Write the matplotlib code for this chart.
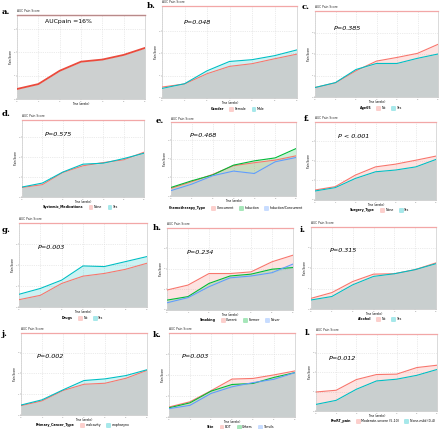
import numpy as np
import matplotlib
matplotlib.use('Agg')
import matplotlib.pyplot as plt
from matplotlib.patches import Patch

W, H = 440, 429

weeks = [0, 1, 2, 3, 4, 5, 6]

# panel a: whole cohort
pain_all = [0.43, 0.64, 1.21, 1.60, 1.69, 1.89, 2.19]

# grouped panels (b-l)
gender_names = ['Female', 'Male']
gender_vals = [[0.49, 0.63, 1.09, 1.42, 1.54, 1.76, 1.97],
               [0.43, 0.64, 1.22, 1.64, 1.72, 1.90, 2.16]]
age_names = ['No', 'Yes']
age_vals = [[0.44, 0.66, 1.22, 1.67, 1.84, 2.03, 2.45],
            [0.44, 0.67, 1.28, 1.56, 1.56, 1.80, 2.00]]
sysmed_names = ['None', 'Yes']
sysmed_vals = [[0.48, 0.62, 1.23, 1.57, 1.73, 1.87, 2.25],
               [0.50, 0.70, 1.25, 1.65, 1.70, 1.93, 2.20]]
chemo_names = ['Concurrent', 'Induction', 'Induction/Concurrent']
chemo_vals = [[0.41, 0.77, 1.16, 1.63, 1.79, 1.93, 2.16],
              [0.46, 0.82, 1.13, 1.66, 1.89, 2.05, 2.55],
              [0.29, 0.64, 1.09, 1.34, 1.21, 1.84, 2.07]]
surg_names = ['None', 'Yes']
surg_vals = [[0.51, 0.68, 1.27, 1.69, 1.83, 2.03, 2.24],
             [0.46, 0.63, 1.10, 1.44, 1.53, 1.69, 2.07]]
drugs_names = ['No', 'Yes']
drugs_vals = [[0.35, 0.56, 1.13, 1.48, 1.61, 1.81, 2.10],
              [0.61, 0.89, 1.29, 1.97, 1.94, 2.18, 2.42]]
smoke_names = ['Current', 'Former', 'Never']
smoke_vals = [[0.97, 1.21, 1.77, 1.77, 1.85, 2.34, 2.66],
              [0.48, 0.65, 1.29, 1.65, 1.74, 1.98, 2.06],
              [0.35, 0.60, 1.13, 1.56, 1.65, 1.81, 2.23]]
alc_names = ['No', 'Yes']
alc_vals = [[0.52, 0.80, 1.34, 1.70, 1.72, 1.92, 2.25],
            [0.44, 0.61, 1.18, 1.59, 1.72, 1.92, 2.21]]
prim_names = ['oralcavity', 'oropharynx']
prim_vals = [[0.45, 0.68, 1.18, 1.48, 1.53, 1.77, 2.15],
             [0.48, 0.73, 1.21, 1.66, 1.74, 1.90, 2.18]]
site_names = ['BOT', 'Others', 'Tonsils']
site_vals = [[0.48, 0.73, 1.26, 1.82, 1.85, 2.02, 2.21],
             [0.44, 0.68, 1.24, 1.56, 1.61, 1.90, 2.13],
             [0.40, 0.56, 1.13, 1.45, 1.65, 1.81, 2.13]]
prert_names = ['Moderate-severe (5-10)', 'None-mild (0-4)']
prert_vals = [[0.98, 1.07, 1.62, 1.88, 1.90, 2.24, 2.36],
              [0.34, 0.55, 1.12, 1.55, 1.64, 1.84, 2.14]]

col2 = ['#F8766D', '#00BFC4']
col3 = ['#F8766D', '#00BA38', '#619CFF']

fig = plt.figure(figsize=(W / 100, H / 100), dpi=100)


def make_ax(l, r, t, b, ytop):
    ax = fig.add_axes([l / W, 1 - b / H, (r - l) / W, (b - t) / H])
    ax.set_xlim(0, 6)
    ax.set_ylim(0, ytop)
    ax.set_xticks(weeks)
    ax.set_yticks([0, 1, 2, 3])
    ax.set_xticklabels([str(w) for w in weeks])
    ax.set_yticklabels(['0', '1', '2', '3'])
    ax.tick_params(labelsize=1.6, length=0.8, width=0.3, pad=0.5, colors='#777777')
    ax.grid(True, color='#d8d8d8', linestyle=':', linewidth=0.5)
    ax.set_axisbelow(True)
    for s in ax.spines.values():
        s.set_color('#cccccc')
        s.set_linewidth(0.5)
    ax.axhline(ytop, color='#f2a7a7', lw=0.9, clip_on=False, zorder=5)
    ax.set_xlabel('Time (weeks)', fontsize=1.9, labelpad=0.4)
    ax.set_ylabel('Pain Score', fontsize=1.9, labelpad=0.5)
    ax.text(0.0, 1.02, 'AUC Pain Score', transform=ax.transAxes, fontsize=2.2,
            va='bottom', color='#333333')
    return ax


def panel_label(x, y, s):
    fig.text(x / W, 1 - y / H, s, fontsize=6, family='DejaVu Serif',
             fontweight='bold', va='center', ha='left')


def grouped(ax, vals, names, cols, title, ptxt, px, py, ly, lx):
    vals = np.array(vals)
    low = vals.min(axis=0)
    ax.fill_between(weeks, 0, low, color='#c9cfcf', lw=0, zorder=1)
    for v, c in zip(vals, cols):
        ax.fill_between(weeks, low, v, color=c, alpha=0.2, lw=0, zorder=1)
    for v, c in zip(vals, cols):
        ax.plot(weeks, v, color=c, lw=0.8, zorder=3)
    fig.text(px / W, 1 - py / H, ptxt, fontsize=4.6, style='italic',
             va='center', ha='left')
    handles = [Patch(facecolor='none', edgecolor='none', label=title)]
    for n, c in zip(names, cols):
        handles.append(Patch(facecolor=c, alpha=0.35, edgecolor=c, lw=0.4, label=n))
    leg = fig.legend(handles=handles, loc='center', ncol=len(handles),
                     bbox_to_anchor=(lx / W, 1 - (ly + 1) / H), frameon=False,
                     fontsize=2.3, handlelength=1.2, handleheight=1.2,
                     handletextpad=0.5, columnspacing=1.6, borderpad=0.1)
    leg.get_texts()[0].set_fontweight('bold')


# a.
ax = make_ax(17, 145, 15, 99, 3.6)
ax.fill_between(weeks, 0, pain_all, color='#cdd0d0', lw=0, zorder=1)
ax.plot(weeks, pain_all, color='#ea4a3c', lw=1.3, zorder=3)
ax.axhline(3.6, color='#b88a8a', lw=0.9, clip_on=False, zorder=5)
fig.text(45 / W, 1 - 22 / H, 'AUCpain =16%', fontsize=4.4, va='center')
panel_label(2, 12, 'a.')

# b.
ax = make_ax(162, 297, 6, 98, 4.13)
grouped(ax, gender_vals, gender_names, col2, 'Gender', 'P=0.048', 184, 23, 108, 235)
panel_label(147, 6, 'b.')

# c.
ax = make_ax(315, 438, 11, 97, 4.0)
grouped(ax, age_vals, age_names, col2, 'Age65', 'P=0.385', 334, 28, 107, 378)
panel_label(302, 7, 'c.')

# d.
ax = make_ax(22, 144, 120, 197, 3.87)
grouped(ax, sysmed_vals, sysmed_names, col2, 'Systemic_Medications', 'P=0.575', 45, 135, 206, 78)
panel_label(2, 114, 'd.')

# e.
ax = make_ax(171, 296, 122, 196, 3.98)
grouped(ax, chemo_vals, chemo_names, col3, 'Chemotherapy_Type', 'P=0.468', 190, 136, 207, 233)
panel_label(156, 121, 'e.')

# f.
ax = make_ax(315, 436, 122, 200, 3.98)
grouped(ax, surg_vals, surg_names, col2, 'Surgery_Type', 'P < 0.001', 338, 137, 209, 377)
panel_label(304, 119, 'f.')

# g.
ax = make_ax(19, 147, 223, 307, 4.03)
grouped(ax, drugs_vals, drugs_names, col2, 'Drugs', 'P=0.003', 38, 248, 317, 80)
panel_label(2, 230, 'g.')

# h.
ax = make_ax(167, 293, 228, 310, 3.98)
grouped(ax, smoke_vals, smoke_names, col3, 'Smoking', 'P=0.234', 187, 252, 319, 237)
panel_label(153, 228, 'h.')

# i.
ax = make_ax(311, 436, 227, 309, 4.0)
grouped(ax, alc_vals, alc_names, col2, 'Alcohol', 'P=0.315', 330, 250, 318, 377)
panel_label(300, 230, 'i.')

# j.
ax = make_ax(21, 147, 333, 415, 3.95)
grouped(ax, prim_vals, prim_names, col2, 'Primary_Cancer_Type', 'P=0.002', 37, 356, 424, 80)
panel_label(2, 334, 'j.')

# k.
ax = make_ax(169, 295, 333, 417, 4.03)
grouped(ax, site_vals, site_names, col3, 'Site', 'P=0.003', 182, 357, 426, 238)
panel_label(153, 335, 'k.')

# l.
ax = make_ax(316, 437, 334, 411, 3.97)
grouped(ax, prert_vals, prert_names, col2, 'PreRT_pain', 'P=0.012', 329, 358, 420, 380)
panel_label(305, 333, 'l.')

fig.savefig('out.png', dpi=100)
